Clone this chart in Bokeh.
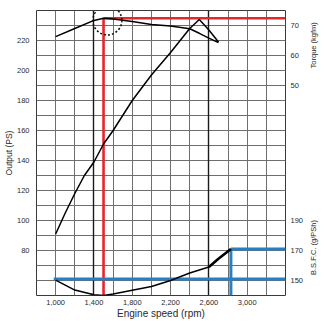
import math
from bokeh.plotting import figure
from bokeh.layouts import row
from bokeh.models import (Range1d, LinearAxis, FixedTicker, SingleIntervalTicker,
                          Grid, Label, NumeralTickFormatter)
from bokeh.embed import file_html
from bokeh.resources import INLINE

# ---------------- data ----------------
output_rpm = [1000, 1100, 1200, 1300, 1400, 1500, 1600, 1800, 2000, 2200, 2400, 2500, 2600, 2700]
output_ps = [91, 105, 118, 130, 139, 151, 160, 180, 197, 212, 228, 234, 227, 219]

torque_rpm = [1000, 1200, 1400, 1500, 1600, 1800, 2000, 2200, 2400, 2500, 2600, 2700]
torque_kgfm = [66.3, 69.0, 71.7, 72.4, 72.2, 71.3, 70.3, 69.8, 68.9, 67.4, 65.8, 64.3]

bsfc_rpm = [1000, 1200, 1400, 1500, 1600, 1800, 2000, 2200, 2400, 2600, 2700, 2830]
bsfc_gpsh = [150.2, 143.6, 140.5, 140.0, 141.0, 143.5, 146.0, 150.0, 155.0, 159.0, 164.5, 171.0]

x_ticks = [1000, 1400, 1800, 2200, 2600, 3000]
output_ticks = [80, 100, 120, 140, 160, 180, 200, 220]
torque_ticks = [50, 60, 70]
bsfc_ticks = [150, 170, 190]

peak_rpm = 1500          # red marker line
peak_torque = 72.4
circle_rpm = [1540]      # dotted highlight circle
circle_torque = [71.7]
rated_rpm = 2830         # blue marker lines
rated_bsfc = 171
ref_rpm_start = 980
ref_bsfc = 151

x_lo, x_hi = 800, 3400
ps_lo, ps_hi = 50, 240
tq_lo, tq_hi = -20, 75
bs_lo, bs_hi = 140, 330

FONT = "Liberation Sans"
TXT = "#2a2a2a"

y_ps = Range1d(ps_lo, ps_hi)
y_tq = Range1d(tq_lo, tq_hi)
y_bs = Range1d(bs_lo, bs_hi)

p = figure(width=306, height=321, x_range=Range1d(x_lo, x_hi), y_range=y_ps,
           output_backend="svg", toolbar_location=None,
           min_border_left=36, min_border_right=20, min_border_top=10, min_border_bottom=25,
           background_fill_color="white", border_fill_color="white")
p.extra_y_ranges = {"torque": y_tq, "bsfc": y_bs}

p.outline_line_color = "#3a3a3a"
p.outline_line_width = 1

# grids
p.xgrid.ticker = SingleIntervalTicker(interval=200)
p.ygrid.ticker = SingleIntervalTicker(interval=10)
p.grid.grid_line_color = "#6e6e6e"
p.grid.grid_line_width = 1
p.add_layout(Grid(dimension=0, ticker=FixedTicker(ticks=[1400, 2600]),
                  grid_line_color="#1a1a1a", grid_line_width=1.4))

# axes styling
def style_axis(ax):
    ax.axis_line_color = None
    ax.major_tick_line_color = None
    ax.minor_tick_line_color = None
    ax.major_tick_out = 0
    ax.major_tick_in = 0
    ax.major_label_text_font = FONT
    ax.major_label_text_font_size = "7.5px"
    ax.major_label_text_color = TXT
    ax.axis_label_text_font = FONT
    ax.axis_label_text_font_style = "normal"
    ax.axis_label_text_color = TXT

xa = p.xaxis[0]
style_axis(xa)
xa.ticker = FixedTicker(ticks=x_ticks)
xa.formatter = NumeralTickFormatter(format="0,0")
xa.major_label_standoff = 4
xa.axis_label = "Engine speed (rpm)"
xa.axis_label_text_font_size = "10px"
xa.axis_label_standoff = 0

ya = p.yaxis[0]
style_axis(ya)
ya.ticker = FixedTicker(ticks=output_ticks)
ya.major_label_standoff = 7
ya.axis_label = "Output (PS)"
ya.axis_label_text_font_size = "8.5px"
ya.axis_label_standoff = 0

# combined right axis: torque ticks + B.S.F.C. ticks mapped onto the torque scale
def bsfc_to_torque(b):
    return tq_lo + (b - bs_lo) * (tq_hi - tq_lo) / (bs_hi - bs_lo)

bs_pos = [bsfc_to_torque(b) for b in bsfc_ticks]
ra = LinearAxis(y_range_name="torque", ticker=FixedTicker(ticks=torque_ticks + bs_pos))
style_axis(ra)
ra.major_label_standoff = 5
ra.major_label_overrides = {int(round(t)) if float(t).is_integer() else t: str(b)
                            for t, b in zip(bs_pos, bsfc_ticks)}
p.add_layout(ra, "right")

# marker lines (red / blue)
RED = "#e8262a"
BLUE = "#2a7fc1"
p.segment(x0=[peak_rpm], y0=[tq_lo], x1=[peak_rpm], y1=[peak_torque], y_range_name="torque",
          line_color=RED, line_width=2.6)
p.segment(x0=[peak_rpm], y0=[peak_torque], x1=[x_hi], y1=[peak_torque], y_range_name="torque",
          line_color=RED, line_width=2.6)

p.segment(x0=[ref_rpm_start], y0=[ref_bsfc], x1=[x_hi], y1=[ref_bsfc], y_range_name="bsfc",
          line_color=BLUE, line_width=3)
p.segment(x0=[rated_rpm], y0=[rated_bsfc], x1=[x_hi], y1=[rated_bsfc], y_range_name="bsfc",
          line_color=BLUE, line_width=3)
p.segment(x0=[rated_rpm], y0=[bs_lo], x1=[rated_rpm], y1=[rated_bsfc], y_range_name="bsfc",
          line_color=BLUE, line_width=3)

# curves
p.line(output_rpm, output_ps, line_color="black", line_width=1.5)
p.line(torque_rpm, torque_kgfm, y_range_name="torque", line_color="black", line_width=1.5)
p.line(bsfc_rpm, bsfc_gpsh, y_range_name="bsfc", line_color="black", line_width=1.5)
p.line(bsfc_rpm[-3:], bsfc_gpsh[-3:], y_range_name="bsfc", line_color="black", line_width=2.6)

# dotted highlight circle
p.scatter(circle_rpm, circle_torque, y_range_name="torque", marker="circle", size=29,
          fill_color=None, line_color="#111111", line_width=1.5, line_dash="2 2")

# narrow strip on the right that carries the two right-hand axis titles
t = figure(width=20, height=321, x_range=Range1d(0, 1), y_range=y_ps,
           x_axis_type=None, y_axis_type=None,
           output_backend="svg", toolbar_location=None,
           min_border_left=0, min_border_right=0, min_border_top=10, min_border_bottom=25,
           background_fill_color="white", border_fill_color="white")
t.extra_y_ranges = {"torque": y_tq, "bsfc": y_bs}
t.outline_line_color = None
t.add_layout(Label(x=0.33, y=63.4, y_range_name="torque", text="Torque (kgfm)",
                   angle=math.pi / 2, text_align="center", text_baseline="middle",
                   text_font=FONT, text_font_size="7.5px", text_color=TXT))
t.add_layout(Label(x=0.33, y=172, y_range_name="bsfc", text="B.S.F.C. (g/PSh)",
                   angle=math.pi / 2, text_align="center", text_baseline="middle",
                   text_font=FONT, text_font_size="7.5px", text_color=TXT))

layout = row(p, t)
open("out.html", "w").write(file_html(layout, INLINE))
